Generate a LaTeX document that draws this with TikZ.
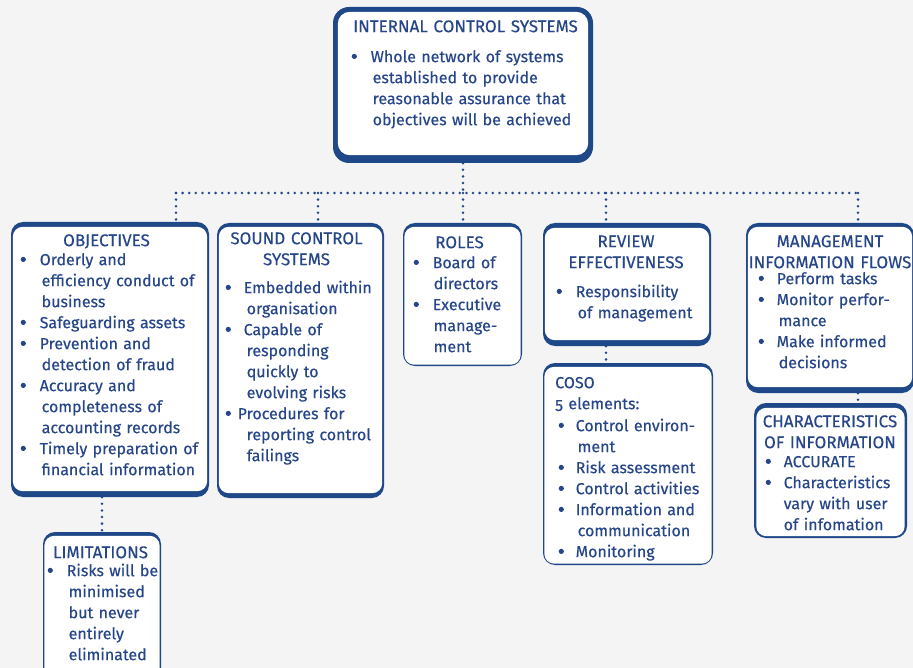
\documentclass[tikz,border=0pt]{standalone}
\usepackage{fontspec}
\setmainfont{Fira Sans}[FakeBold=0.35]
\usetikzlibrary{fit}
\definecolor{cb}{RGB}{31,72,137}
\definecolor{ct}{RGB}{38,70,137}
\definecolor{bg}{RGB}{244,244,244}
\def\orad{12}
\def\irad{10}
\newcommand\panel[8]{%
  \node[fill=cb, rounded corners=\orad pt, inner sep=0pt, fit={(#2,#3) (#4,#5)}] (#1) {};
  \fill[white, rounded corners=\irad pt] ([shift={(#7pt,-#6pt)}]#1.north west) rectangle ([shift={(-#7pt,#8pt)}]#1.south east);}
\newcommand\dotb{\tikz[baseline=0pt]\fill[ct] (0pt,5.8pt) circle[radius=2.6pt];}
\newcommand\nl{\unskip\nobreak\hfil\break}
\newcommand\bl[3]{\noindent\hangindent=#2pt\hangafter=1\makebox[#1pt][l]{\strut\dotb}\ignorespaces#3\par}
\begin{document}
\begin{tikzpicture}[x=1pt,y=-1pt,
  ttl/.style={text=ct, font=\fontsize{17}{21}\selectfont, inner sep=0pt, anchor=north, text width=280pt, align=center},
  lst/.style={text=ct, font=\fontsize{16}{21}\selectfont, inner sep=0pt, anchor=north west, text width=280pt, align=left},
  dots/.style={cb, line width=2.8pt, line cap=round, dash pattern=on 0pt off 6.6pt}]
\useasboundingbox[fill=bg] (0,0) rectangle (913,668);
\clip (0,0) rectangle (913,668);
% panels
\def\orad{16}\def\irad{12}
\panel{top}{333}{7}{593}{163}{5}{5}{8}
\def\orad{12}\def\irad{10}
\panel{obj}{11}{222}{209}{497}{5}{2}{6}
\panel{scs}{217}{223}{384}{498}{4}{2}{5}
\panel{rol}{403}{223}{522}{366}{4}{1.5}{1.5}
\panel{rev}{543}{223}{711}{346}{5}{2}{6}
\panel{mif}{746}{223}{914}{393}{4}{2}{6}
\panel{coso}{543}{363}{713}{565}{4}{1.5}{1.5}
\panel{chr}{754}{403}{907}{538}{5}{2.5}{2}
\panel{lim}{43}{532}{161}{690}{4}{1.5}{1.5}
% connectors
\coordinate (dO) at (176,193);
\coordinate (dS) at (318,193);
\coordinate (dR) at (463,193);
\coordinate (dV) at (606,193);
\coordinate (dM) at (858,193);
\draw[dots] (top.south) -- (top.south |- dO);
\draw[dots] (dO) -- (dM);
\draw[dots] (dO) -- (dO |- obj.north);
\draw[dots] (dS) -- (dS |- scs.north);
\draw[dots] (dR) -- (dR |- rol.north);
\draw[dots] (dV) -- (dV |- rev.north);
\draw[dots] (dM) -- (dM |- mif.north);
\draw[dots] (lim.north |- obj.south) -- (lim.north);
\draw[dots] (dV |- rev.south) -- (dV |- coso.north);
\draw[dots] (dM |- mif.south) -- (dM |- chr.north);
% texts
\node[ttl] (topT) at (465.5,17.3) {\strut INTERNAL CONTROL SYSTEMS};
\node[lst] (topL) at (351.5,47.3) {\bl{19}{21}{Whole network of systems\nl established to provide\nl reasonable assurance that\nl objectives will be achieved}};

\node[ttl] (objT) at (106.5,231.3) {\strut OBJECTIVES};
\node[lst] (objL) at (20.5,250.3) {\bl{19}{21}{Orderly and\nl efficiency conduct of\nl business}\bl{19}{21}{Safeguarding assets}\bl{19}{21}{Prevention and\nl detection of fraud}\bl{19}{21}{Accuracy and\nl completeness of\nl accounting records}\bl{19}{21}{Timely preparation of\nl financial information}};

\node[ttl] (scsT) at (296.5,229.3) {\strut SOUND CONTROL\\SYSTEMS};
\node[lst] (scsL) at (225.5,278.3) {\bl{18}{21}{Embedded within\nl organisation}\bl{18}{21}{Capable of\nl responding\nl quickly to\nl evolving risks}\bl{12}{21}{Procedures for\nl reporting control\nl failings}};

\node[ttl] (rolT) at (459.5,233.3) {\strut ROLES};
\node[lst] (rolL) at (413.5,253.3) {\bl{19}{20}{Board of\nl directors}\bl{19}{20}{Executive\nl manage-\nl ment}};

\node[ttl] (revT) at (626,232.3) {\strut REVIEW\\EFFECTIVENESS};
\node[lst] (revL) at (556.5,282.3) {\bl{19}{21}{Responsibility\nl of management}};

\node[ttl] (mifT) at (830,232.3) {\strut MANAGEMENT\\INFORMATION FLOWS};
\node[lst] (mifL) at (758.5,269.3) {\bl{18}{20}{Perform tasks}\bl{18}{20}{Monitor perfor-\nl mance}\bl{18}{20}{Make informed\nl decisions}};

\node[lst] (cosoT) at (555,373.3) {\strut COSO\\{\addfontfeatures{Numbers=OldStyle}5} elements:};
\node[lst] (cosoL) at (558.5,416.3) {\bl{17}{19}{Control environ-\nl ment}\bl{17}{19}{Risk assessment}\bl{17}{19}{Control activities}\bl{17}{19}{Information and\nl communication}\bl{17}{19}{Monitoring}};

\node[ttl] (chrT) at (830,412.3) {\strut CHARACTERISTICS\\OF INFORMATION};
\node[lst] (chrL) at (765.5,452.3) {\bl{18}{18}{ACCURATE}\bl{18}{18}{Characteristics\nl vary with user\nl of infomation}};

\node[ttl] (limT) at (100.5,543.3) {\strut LIMITATIONS};
\node[lst] (limL) at (47.5,561.3) {\bl{19}{21}{Risks will be\nl minimised\nl but never\nl entirely\nl eliminated}};
\end{tikzpicture}
\end{document}
